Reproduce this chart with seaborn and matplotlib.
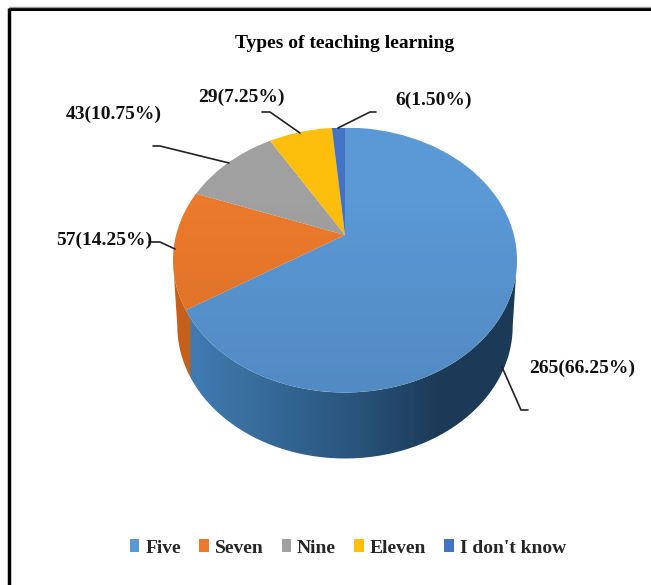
import numpy as np
import matplotlib
matplotlib.use('Agg')
import matplotlib.pyplot as plt
import seaborn as sns
from matplotlib.colors import LinearSegmentedColormap
from matplotlib.patches import Ellipse, PathPatch
from matplotlib.path import Path

categories = ['Five', 'Seven', 'Nine', 'Eleven', "I don't know"]
counts = [265, 57, 43, 29, 6]
point_labels = ['265(66.25%)', '57(14.25%)', '43(10.75%)', '29(7.25%)', '6(1.50%)']
title = 'Types of teaching learning'

colors = sns.color_palette(['#5a98d6', '#ed7a2c', '#a0a0a0', '#fdbe0c', '#4472c4'])

sns.set_theme(style='white')
plt.rcParams['font.family'] = ['Liberation Serif', 'DejaVu Serif']
plt.rcParams['font.weight'] = 'bold'

W, H = 651, 585
fig = plt.figure(figsize=(W / 100, H / 100), dpi=100, facecolor='white')

# overlay in picture pixels, for frame, labels and leader lines
bg = fig.add_axes([0, 0, 1, 1], zorder=3)
bg.set_xlim(0, W)
bg.set_ylim(H, 0)
bg.axis('off')
bg.patch.set_alpha(0)

# pie axes: one data unit = the ellipse radius on each side
cx, cy, rx, ry = 345, 260, 172, 132.5
depth = 66 / ry
apex = (260 - 235) / ry
y_low = -1 - depth - 0.02
ax = fig.add_axes([(cx - rx) / W, 1 - (cy + ry * -y_low) / H, 2 * rx / W, (ry * (1 - y_low)) / H], zorder=1)

wedges, _ = ax.pie(counts, colors=colors, startangle=90, counterclock=False,
                   radius=1.8, center=(0, apex), wedgeprops={'linewidth': 0})
ax.set_aspect('auto')
ax.set_xlim(-1, 1)
ax.set_ylim(y_low, 1)

# pie wedges come with clipping off, turn it on to cut them to the ellipse
top = Ellipse((0, 0), 2, 2, transform=ax.transData)
for w in wedges:
    w.set_clip_on(True)
    w.set_clip_path(top)

# soft vertical shading on the top face
shade = np.zeros((100, 2, 4))
shade[:, :, 3] = np.linspace(-0.03, 0.09, 100).clip(0)[:, None]
im = ax.imshow(shade, extent=(-1, 1, -1, 1), origin='upper', aspect='auto', zorder=2)
im.set_clip_path(Ellipse((0, 0), 2, 2, transform=ax.transData))

# side wall, bottom rim a bit narrower than the top (perspective)
t = np.linspace(np.pi, 2 * np.pi, 200)
xs = np.cos(t)
ys = np.sin(t)
verts = np.r_[np.c_[xs, ys], np.c_[xs[::-1] * 0.975, ys[::-1] - depth], [[-1, 0]]]
side = PathPatch(Path(verts), transform=ax.transData, fc='none', ec='none')
ax.add_patch(side)
side_cmap = LinearSegmentedColormap.from_list('side', [
    (0.0, '#c55f1a'), (0.045, '#c55f1a'), (0.05, '#3f7bb2'), (0.2, '#3a70a0'),
    (0.5, '#2a5780'), (0.78, '#1c3a57'), (1.0, '#1c3a57')])
wall = ax.imshow(np.linspace(0, 1, 400)[None, :], extent=(-1, 1, y_low, 0), cmap=side_cmap,
                 aspect='auto', zorder=0, vmin=0, vmax=1)
wall.set_clip_path(side)
ax.set_xlim(-1, 1)
ax.set_ylim(y_low, 1)

# frame
bg.plot([9, 9], [585, 8], color='black', lw=2.5, solid_capstyle='butt')
bg.plot([9, 651], [9, 9], color='black', lw=2.2, solid_capstyle='butt')
bg.plot([9, 651], [7, 7], color='#999999', lw=1, solid_capstyle='butt')

bg.text(345, 44, title, ha='center', va='center', fontsize=14, color='black')

label_xy = [(582, 368), (104, 240), (114, 114), (241, 97), (434, 100)]
for lab, (lx, ly) in zip(point_labels, label_xy):
    bg.text(lx, ly, lab, ha='center', va='center', fontsize=14, color='#111111')

leaders = [
    ([502, 521, 528], [367, 410, 410]),
    ([149, 160, 175], [242, 242, 249]),
    ([153, 160, 229], [146, 146, 163]),
    ([262, 270, 300], [112, 112, 133]),
    ([376, 370, 338], [112, 112, 128]),
]
for lx, ly in leaders:
    bg.plot(lx, ly, color='#222222', lw=1.2)

leg = bg.legend(wedges, categories, loc='center', bbox_to_anchor=(348 / W, 1 - 548 / H), ncol=5,
                frameon=False, fontsize=14, handlelength=0.48, handleheight=0.62,
                handletextpad=0.3, columnspacing=0.95, borderpad=0)

fig.savefig('out.png', dpi=100)
